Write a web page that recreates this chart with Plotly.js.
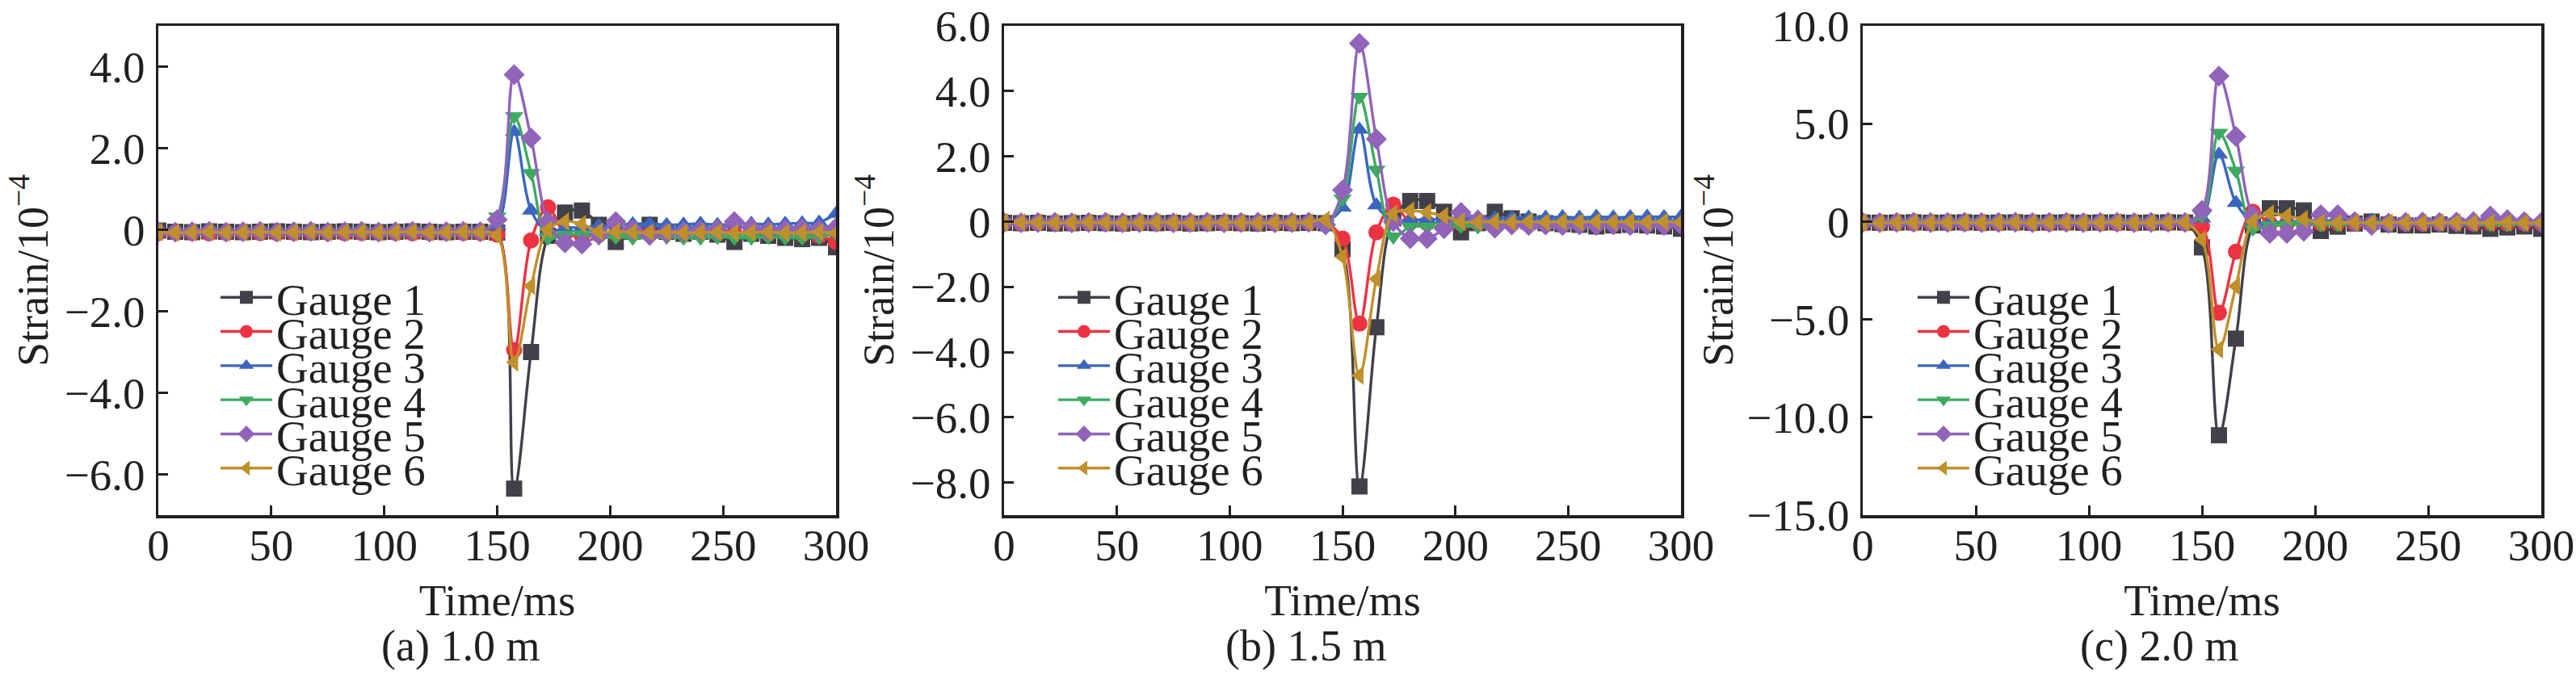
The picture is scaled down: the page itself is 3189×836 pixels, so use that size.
<!DOCTYPE html>
<html>
<head>
<meta charset="utf-8">
<script src="https://cdn.plot.ly/plotly-3.0.1.min.js"></script>
<style>
  html, body { margin: 0; padding: 0; background: #fff; }
  #chart { width: 3189px; height: 836px; }
</style>
</head>
<body>
<div id="chart"></div>
<script>
// time axis, one sample every 7.5 ms
var time = [0, 7.5, 15, 22.5, 30, 37.5, 45, 52.5, 60, 67.5, 75, 82.5, 90, 97.5, 105, 112.5,
    120, 127.5, 135, 142.5, 150, 157.5, 165, 172.5, 180, 187.5, 195, 202.5, 210, 217.5,
    225, 232.5, 240, 247.5, 255, 262.5, 270, 277.5, 285, 292.5, 300]

var gaugeNames = ['Gauge 1', 'Gauge 2', 'Gauge 3', 'Gauge 4', 'Gauge 5', 'Gauge 6']
var captions = ['(a) 1.0 m', '(b) 1.5 m', '(c) 2.0 m']

// (a) 1.0 m
var strainA1 = [-0.02, -0.05, -0.06, -0.04, -0.05, -0.06, -0.05, -0.04, -0.05, -0.06, -0.05, -0.04, -0.05, -0.06, -0.05, -0.04, -0.05, -0.06, -0.05, -0.05,
    -0.07, -6.35, -3.0, -0.15, 0.42, 0.47, 0.12, -0.3, -0.05, 0.12, -0.05, -0.1, -0.05, -0.12, -0.3, -0.1, -0.15, -0.2, -0.23, -0.2, -0.43]
var strainA2 = [-0.08, -0.07, -0.08, -0.09, -0.08, -0.07, -0.08, -0.09, -0.08, -0.07, -0.08, -0.09, -0.08, -0.07, -0.08, -0.09, -0.08, -0.07, -0.08, -0.08,
    -0.12, -2.95, -0.26, 0.55, -0.1, -0.15, -0.12, -0.1, -0.08, -0.1, -0.08, -0.07, -0.08, -0.1, -0.08, -0.07, -0.1, -0.08, -0.12, -0.15, -0.3]
var strainA3 = [-0.03, -0.02, -0.03, -0.04, -0.03, -0.02, -0.03, -0.04, -0.03, -0.02, -0.03, -0.04, -0.03, -0.02, -0.03, -0.04, -0.03, -0.02, -0.03, -0.02,
    0.1, 2.4, 0.47, -0.05, 0.05, 0.05, 0.1, 0.12, 0.14, 0.15, 0.12, 0.13, 0.15, 0.12, 0.14, 0.15, 0.13, 0.15, 0.16, 0.18, 0.39]
var strainA4 = [-0.08, -0.09, -0.1, -0.08, -0.09, -0.1, -0.08, -0.09, -0.1, -0.08, -0.09, -0.1, -0.08, -0.09, -0.1, -0.08, -0.09, -0.1, -0.08, -0.1,
    0.32, 2.78, 1.39, -0.2, -0.13, -0.12, -0.2, -0.18, -0.2, -0.2, -0.18, -0.2, -0.2, -0.18, -0.2, -0.2, -0.18, -0.2, -0.2, -0.18, -0.1]
var strainA5 = [-0.05, -0.06, -0.05, -0.04, -0.06, -0.05, -0.04, -0.06, -0.05, -0.04, -0.06, -0.05, -0.04, -0.06, -0.05, -0.04, -0.06, -0.05, -0.04, -0.05,
    0.25, 3.8, 2.25, 0.2, -0.32, -0.35, -0.12, 0.2, 0.0, -0.14, -0.08, -0.05, -0.02, 0.0, 0.2, 0.05, -0.02, 0.0, 0.02, 0.0, 0.05]
var strainA6 = [-0.06, -0.07, -0.06, -0.05, -0.07, -0.06, -0.05, -0.07, -0.06, -0.05, -0.07, -0.06, -0.05, -0.07, -0.06, -0.05, -0.07, -0.06, -0.05, -0.06,
    -0.14, -3.25, -1.38, 0.0, 0.2, 0.14, -0.05, -0.05, -0.06, -0.07, -0.06, -0.08, -0.07, -0.06, -0.08, -0.07, -0.06, -0.08, -0.07, -0.06, -0.08]

// (b) 1.5 m
var strainB1 = [-0.04, -0.05, -0.04, -0.06, -0.05, -0.04, -0.05, -0.06, -0.04, -0.05, -0.04, -0.06, -0.05, -0.04, -0.05, -0.06, -0.04, -0.05, -0.04, -0.05,
    -0.85, -8.12, -3.24, 0.1, 0.63, 0.63, 0.3, -0.33, -0.05, 0.3, 0.1, 0.0, -0.05, -0.08, -0.1, -0.15, -0.12, -0.1, -0.12, -0.15, -0.22]
var strainB2 = [-0.05, -0.06, -0.05, -0.04, -0.06, -0.05, -0.04, -0.06, -0.05, -0.04, -0.06, -0.05, -0.04, -0.06, -0.05, -0.04, -0.06, -0.05, -0.04, -0.05,
    -0.52, -3.13, -0.33, 0.52, -0.03, -0.05, -0.05, -0.06, -0.05, -0.04, -0.06, -0.05, -0.04, -0.06, -0.05, -0.04, -0.06, -0.05, -0.04, -0.06, -0.08]
var strainB3 = [0.0, 0.01, 0.0, -0.01, 0.0, 0.01, 0.0, -0.01, 0.0, 0.01, 0.0, -0.01, 0.0, 0.01, 0.0, -0.01, 0.0, 0.01, 0.0, 0.0,
    0.43, 2.82, 0.5, 0.05, 0.05, 0.06, 0.08, 0.1, 0.12, 0.1, 0.12, 0.13, 0.12, 0.14, 0.12, 0.15, 0.13, 0.14, 0.15, 0.14, 0.15]
var strainB4 = [-0.08, -0.09, -0.1, -0.08, -0.09, -0.1, -0.08, -0.09, -0.1, -0.08, -0.09, -0.1, -0.08, -0.09, -0.1, -0.08, -0.09, -0.1, -0.08, -0.08,
    0.7, 3.82, 1.59, -0.46, -0.16, -0.16, -0.15, -0.14, -0.15, -0.16, -0.15, -0.14, -0.15, -0.16, -0.15, -0.14, -0.15, -0.16, -0.15, -0.14, -0.15]
var strainB5 = [-0.03, -0.04, -0.03, -0.02, -0.04, -0.03, -0.02, -0.04, -0.03, -0.02, -0.04, -0.03, -0.02, -0.04, -0.03, -0.02, -0.04, -0.03, -0.02, -0.1,
    0.96, 5.46, 2.53, 0.0, -0.52, -0.52, -0.22, 0.28, 0.05, -0.2, -0.1, -0.12, -0.1, -0.12, -0.1, -0.12, -0.1, -0.12, -0.1, -0.12, -0.1]
var strainB6 = [-0.03, -0.02, -0.03, -0.04, -0.03, -0.02, -0.03, -0.04, -0.03, -0.02, -0.03, -0.04, -0.03, -0.02, -0.03, -0.04, -0.03, -0.02, -0.03, 0.05,
    -1.08, -4.72, -1.76, 0.24, 0.33, 0.28, 0.17, 0.0, -0.02, 0.0, -0.02, 0.0, -0.02, 0.0, -0.02, 0.0, -0.02, 0.0, -0.02, 0.0, -0.02]

// (c) 2.0 m
var strainC1 = [-0.05, -0.06, -0.05, -0.04, -0.06, -0.05, -0.04, -0.06, -0.05, -0.04, -0.06, -0.05, -0.04, -0.06, -0.05, -0.04, -0.06, -0.05, -0.04, -0.05,
    -1.32, -10.92, -5.98, -0.2, 0.68, 0.68, 0.57, -0.48, -0.26, -0.1, 0.0, -0.15, -0.2, -0.2, -0.15, -0.22, -0.25, -0.37, -0.3, -0.25, -0.37]
var strainC2 = [-0.08, -0.07, -0.08, -0.09, -0.08, -0.07, -0.08, -0.09, -0.08, -0.07, -0.08, -0.09, -0.08, -0.07, -0.08, -0.09, -0.08, -0.07, -0.08, -0.08,
    -0.26, -4.66, -1.54, 0.5, -0.1, -0.1, -0.12, -0.1, -0.08, -0.1, -0.08, -0.07, -0.08, -0.1, -0.08, -0.07, -0.1, -0.08, -0.1, -0.08, -0.1]
var strainC3 = [-0.03, -0.02, -0.03, -0.04, -0.03, -0.02, -0.03, -0.04, -0.03, -0.02, -0.03, -0.04, -0.03, -0.02, -0.03, -0.04, -0.03, -0.02, -0.03, -0.03,
    0.17, 3.43, 0.95, 0.0, -0.05, 0.0, 0.03, 0.05, 0.04, 0.05, 0.06, 0.05, 0.04, 0.05, 0.06, 0.05, 0.04, 0.05, 0.06, 0.05, 0.05]
var strainC4 = [-0.05, -0.06, -0.07, -0.05, -0.06, -0.07, -0.05, -0.06, -0.07, -0.05, -0.06, -0.07, -0.05, -0.06, -0.07, -0.05, -0.06, -0.07, -0.05, -0.05,
    0.3, 4.53, 2.6, -0.37, -0.2, -0.18, -0.15, -0.16, -0.15, -0.14, -0.15, -0.16, -0.15, -0.14, -0.15, -0.16, -0.15, -0.14, -0.15, -0.16, -0.15]
var strainC5 = [-0.05, -0.06, -0.05, -0.04, -0.06, -0.05, -0.04, -0.06, -0.05, -0.04, -0.06, -0.05, -0.04, -0.06, -0.05, -0.04, -0.06, -0.05, -0.04, -0.05,
    0.57, 7.43, 4.35, 0.3, -0.6, -0.6, -0.5, 0.35, 0.35, 0.0, -0.2, -0.1, -0.05, -0.02, -0.05, -0.02, 0.0, 0.28, 0.1, 0.0, -0.05]
var strainC6 = [-0.05, -0.06, -0.05, -0.04, -0.06, -0.05, -0.04, -0.06, -0.05, -0.04, -0.06, -0.05, -0.04, -0.06, -0.05, -0.04, -0.06, -0.05, -0.04, -0.05,
    -0.92, -6.53, -3.3, 0.0, 0.4, 0.28, 0.13, -0.05, -0.06, -0.05, -0.07, -0.06, -0.05, -0.07, -0.06, -0.05, -0.07, -0.06, -0.05, -0.07, -0.06]

// y tick labels per panel
var yTickValsA = [-6, -4, -2, 0, 2, 4]
var yTickTextA = ['\u22126.0', '\u22124.0', '\u22122.0', '0', '2.0', '4.0']
var yTickValsB = [-8, -6, -4, -2, 0, 2, 4, 6]
var yTickTextB = ['\u22128.0', '\u22126.0', '\u22124.0', '\u22122.0', '0', '2.0', '4.0', '6.0']
var yTickValsC = [-15, -10, -5, 0, 5, 10]
var yTickTextC = ['\u221215.0', '\u221210.0', '\u22125.0', '0', '5.0', '10.0']
var xTickVals = [0, 50, 100, 150, 200, 250, 300]

var colors = ['#404149', '#ec3344', '#3a66c0', '#3daa62', '#9163b9', '#c0902a']
var symbols = ['square', 'circle', 'triangle-up', 'triangle-down', 'diamond', 'triangle-left']

var W = 3189, H = 836
var FONT = "'Liberation Serif', 'Times New Roman', serif"
var INK = '#231f20'
var TICK_SIZE = 55

var panels = [
    { series: [strainA1, strainA2, strainA3, strainA4, strainA5, strainA6], range: [-7, 5],
      tickvals: yTickValsA, ticktext: yTickTextA, px: [196, 1035], legendX: 268, captionX: 570, standoff: 4 },
    { series: [strainB1, strainB2, strainB3, strainB4, strainB5, strainB6], range: [-9, 6],
      tickvals: yTickValsB, ticktext: yTickTextB, px: [1243, 2081], legendX: 1305, captionX: 1616, standoff: 4 },
    { series: [strainC1, strainC2, strainC3, strainC4, strainC5, strainC6], range: [-15, 10],
      tickvals: yTickValsC, ticktext: yTickTextC, px: [2306, 3146], legendX: 2369, captionX: 2673, standoff: 0 }
]

var yDomain = [(H - 638) / H, (H - 32) / H]

var traces = []
var layout = {
    width: W,
    height: H,
    margin: { l: 0, r: 0, t: 0, b: 0 },
    paper_bgcolor: '#fff',
    plot_bgcolor: '#fff',
    font: { family: FONT, size: 54, color: INK },
    annotations: []
}

function axisBase() {
    return {
        showline: true,
        mirror: true,
        linecolor: INK,
        linewidth: 3.5,
        ticks: 'inside',
        ticklen: 12,
        tickwidth: 3,
        tickcolor: INK,
        showgrid: false,
        zeroline: false,
        ticklabeloverflow: 'allow',
        tickfont: { family: FONT, size: TICK_SIZE, color: INK }
    }
}

panels.forEach(function (p, k) {
    var n = k === 0 ? '' : String(k + 1)
    var legendId = 'legend' + n

    p.series.forEach(function (vals, g) {
        traces.push({
            x: time,
            y: vals,
            name: gaugeNames[g],
            type: 'scatter',
            mode: 'lines+markers',
            xaxis: 'x' + n,
            yaxis: 'y' + n,
            legend: legendId,
            line: { color: colors[g], width: 3.4, shape: 'spline', smoothing: 1 },
            marker: { color: colors[g], symbol: symbols[g], size: 20 }
        })
    })

    var xa = axisBase()
    xa.domain = [p.px[0] / W, p.px[1] / W]
    xa.range = [0, 300]
    xa.tickvals = xTickVals
    xa.ticklabelstandoff = -14
    xa.anchor = 'y' + n
    xa.title = { text: 'Time/ms', font: { family: FONT, size: TICK_SIZE, color: INK }, standoff: 20 }

    var ya = axisBase()
    ya.domain = yDomain
    ya.range = p.range
    ya.tickvals = p.tickvals
    ya.ticktext = p.ticktext
    ya.ticklabelstandoff = 2
    ya.anchor = 'x' + n
    ya.title = { text: 'Strain/10<sup>\u22124</sup>', font: { family: FONT, size: 54, color: INK }, standoff: p.standoff }

    layout['xaxis' + n] = xa
    layout['yaxis' + n] = ya

    layout[legendId] = {
        x: p.legendX / W,
        xanchor: 'left',
        y: (H - 326) / H,
        yanchor: 'top',
        bgcolor: 'rgba(0,0,0,0)',
        borderwidth: 0,
        itemwidth: 64,
        font: { family: FONT, size: 55, color: INK }
    }

    layout.annotations.push({
        text: captions[k],
        xref: 'paper', yref: 'paper',
        x: p.captionX / W, y: (H - 800) / H,
        xanchor: 'center', yanchor: 'middle',
        showarrow: false,
        font: { family: FONT, size: 54, color: INK }
    })
})

Plotly.newPlot('chart', traces, layout, { displayModeBar: false, staticPlot: true }).then(function (gd) {
    // the printed legends stack their rows tighter than Plotly's default line height
    gd.querySelectorAll('g.legend, g.legend2, g.legend3').forEach(function (lg) {
        var y0 = null
        lg.querySelectorAll('g.traces').forEach(function (item, i) {
            var m = /translate\(([-\d.e]+),\s*([-\d.e]+)\)/.exec(item.getAttribute('transform') || '')
            if (!m) return
            if (y0 === null) y0 = parseFloat(m[2])
            item.setAttribute('transform', 'translate(' + m[1] + ',' + (y0 + i * 42.3) + ')')
        })
    })
})
</script>
</body>
</html>
